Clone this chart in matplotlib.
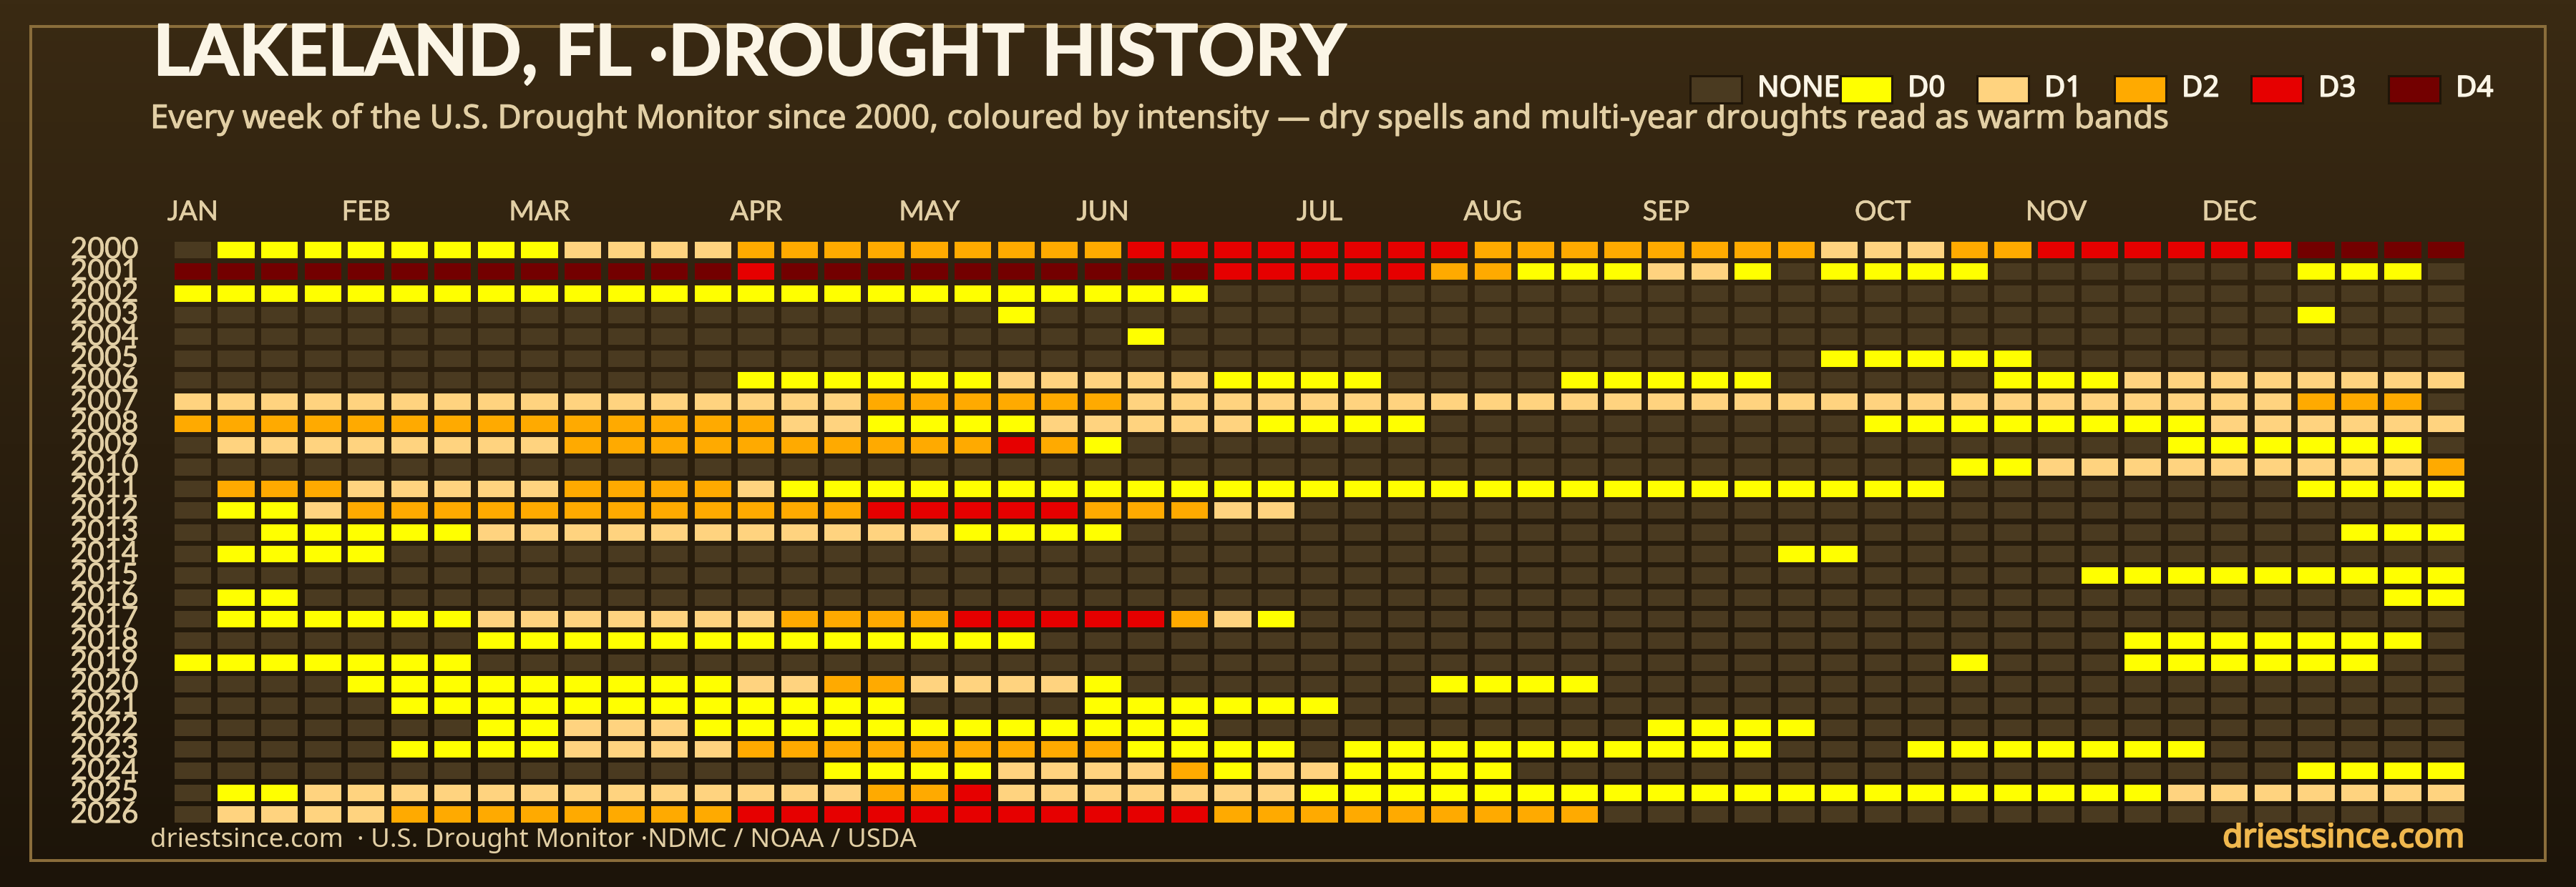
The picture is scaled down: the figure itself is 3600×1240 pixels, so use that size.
import numpy as np
import matplotlib
matplotlib.use("Agg")
import matplotlib.pyplot as plt
import matplotlib.patheffects as pe
from matplotlib.patches import Rectangle
from matplotlib.transforms import ScaledTranslation

# 0 none, 1 D0, 2 D1, 3 D2, 4 D3, 5 D4
w2000 = [0]*1 + [1]*8 + [2]*4 + [3]*9 + [4]*8 + [3]*8 + [2]*3 + [3]*2 + [4]*6 + [5]*4
w2001 = [5]*13 + [4]*1 + [5]*10 + [4]*5 + [3]*2 + [1]*3 + [2]*2 + [1]*1 + [0]*1 + [1]*4 + [0]*7 + [1]*3 + [0]*1
w2002 = [1]*24 + [0]*29
w2003 = [0]*19 + [1]*1 + [0]*29 + [1]*1 + [0]*3
w2004 = [0]*22 + [1]*1 + [0]*30
w2005 = [0]*38 + [1]*5 + [0]*10
w2006 = [0]*13 + [1]*6 + [2]*5 + [1]*4 + [0]*4 + [1]*5 + [0]*5 + [1]*3 + [2]*8
w2007 = [2]*16 + [3]*6 + [2]*27 + [3]*3 + [0]*1
w2008 = [3]*14 + [2]*2 + [1]*4 + [2]*5 + [1]*4 + [0]*10 + [1]*8 + [2]*6
w2009 = [0]*1 + [2]*8 + [3]*10 + [4]*1 + [3]*1 + [1]*1 + [0]*24 + [1]*6 + [0]*1
w2010 = [0]*41 + [1]*2 + [2]*9 + [3]*1
w2011 = [0]*1 + [3]*3 + [2]*5 + [3]*4 + [2]*1 + [1]*27 + [0]*8 + [1]*4
w2012 = [0]*1 + [1]*2 + [2]*1 + [3]*12 + [4]*5 + [3]*3 + [2]*2 + [0]*27
w2013 = [0]*2 + [1]*5 + [2]*11 + [1]*4 + [0]*28 + [1]*3
w2014 = [0]*1 + [1]*4 + [0]*32 + [1]*2 + [0]*14
w2015 = [0]*44 + [1]*9
w2016 = [0]*1 + [1]*2 + [0]*48 + [1]*2
w2017 = [0]*1 + [1]*6 + [2]*7 + [3]*4 + [4]*5 + [3]*1 + [2]*1 + [1]*1 + [0]*27
w2018 = [0]*7 + [1]*13 + [0]*25 + [1]*7 + [0]*1
w2019 = [1]*7 + [0]*34 + [1]*1 + [0]*3 + [1]*6 + [0]*2
w2020 = [0]*4 + [1]*9 + [2]*2 + [3]*2 + [2]*4 + [1]*1 + [0]*7 + [1]*4 + [0]*20
w2021 = [0]*5 + [1]*12 + [0]*4 + [1]*6 + [0]*26
w2022 = [0]*7 + [1]*2 + [2]*3 + [1]*12 + [0]*10 + [1]*4 + [0]*15
w2023 = [0]*5 + [1]*4 + [2]*4 + [3]*9 + [1]*4 + [0]*1 + [1]*10 + [0]*3 + [1]*7 + [0]*6
w2024 = [0]*15 + [1]*4 + [2]*4 + [3]*1 + [1]*1 + [2]*2 + [1]*4 + [0]*18 + [1]*4
w2025 = [0]*1 + [1]*2 + [2]*13 + [3]*2 + [4]*1 + [2]*7 + [1]*20 + [2]*7
w2026 = [0]*1 + [2]*4 + [3]*8 + [4]*11 + [3]*9 + [0]*20

years = list(range(2000, 2027))
weeks = [w2000, w2001, w2002, w2003, w2004, w2005, w2006, w2007, w2008,
         w2009, w2010, w2011, w2012, w2013, w2014, w2015, w2016, w2017,
         w2018, w2019, w2020, w2021, w2022, w2023, w2024, w2025, w2026]

months = ["JAN", "FEB", "MAR", "APR", "MAY", "JUN", "JUL", "AUG", "SEP", "OCT", "NOV", "DEC"]
month_weeks = [0, 4, 8, 13, 17, 21, 26, 30, 34, 39, 43, 47]

levels = ["NONE", "D0", "D1", "D2", "D3", "D4"]
level_colors = ["#4a3a20", "#ffff00", "#ffd37f", "#ffaa00", "#e60000", "#730000"]

W, H = 3600, 1240
cream = "#fbf5e6"
tan = "#e2cfa5"
plt.rcParams["font.family"] = ["Lato", "DejaVu Sans"]
noto = ["Noto Sans", "DejaVu Sans"]


def fatten(color, lw):
    # the installed regular weights are a bit thin next to the original
    return [pe.withStroke(linewidth=lw, foreground=color)]


fig = plt.figure(figsize=(W/100, H/100), dpi=100)

# background gradient and frame, pixel coords
bg = fig.add_axes([0, 0, 1, 1], zorder=0)
bg.set_xlim(0, W)
bg.set_ylim(H, 0)
bg.axis("off")
top = np.array([58, 42, 19])/255
bot = np.array([28, 20, 9])/255
t = np.linspace(0, 1, 256)[:, None, None]
bg.imshow(top*(1-t) + bot*t, extent=[0, W, H, 0], aspect="auto", zorder=0)
bg.add_patch(Rectangle((43, 37), 3514, 1166, fill=False, ec="#8a6d3b", lw=2.9, zorder=1))

# heatmap
x0, pitch_x = 269.5, 60.56
y0, pitch_y = 349.5, 30.35
left = x0 - pitch_x/2
right = x0 + 52.5*pitch_x
upper = y0 - pitch_y/2
lower = y0 + 26.5*pitch_y
ax = fig.add_axes([left/W, 1-lower/H, (right-left)/W, (lower-upper)/H], zorder=2)
ax.patch.set_alpha(0)
for row, vals in enumerate(weeks):
    cols = [level_colors[v] for v in vals]
    ax.bar(range(len(vals)), 0.758, bottom=row-0.379, width=0.845, color=cols, lw=0)
ax.set_xlim(-0.5, 52.5)
ax.set_ylim(26.5, -0.5)
for s in ax.spines.values():
    s.set_visible(False)

ax.xaxis.tick_top()
ax.set_xticks(month_weeks, months)
ax.tick_params(axis="x", length=0, pad=14, labelsize=27.5, labelcolor=tan)
for lab in ax.get_xticklabels():
    lab.set_path_effects(fatten(tan, 0.5))
ax.set_yticks(range(len(years)), years)
ax.tick_params(axis="y", length=0, pad=33, labelsize=29.5, labelcolor=tan)
shift = ScaledTranslation(0, -0.115, fig.dpi_scale_trans)
for lab in ax.get_yticklabels():
    lab.set_verticalalignment("baseline")
    lab.set_transform(lab.get_transform() + shift)
    lab.set_path_effects(fatten(tan, 0.6))

# text
bg.text(214, 105, "LAKELAND, FL ·DROUGHT HISTORY", color=cream, fontsize=71,
        fontweight="bold", va="baseline", zorder=3, path_effects=fatten(cream, 1.5))
bg.text(210, 179, "Every week of the U.S. Drought Monitor since 2000, coloured by intensity — dry spells and multi-year droughts read as warm bands",
        color=tan, fontsize=32.95, family=noto, va="baseline", zorder=3, path_effects=fatten(tan, 0.8))
bg.text(210.5, 1184, "driestsince.com  · U.S. Drought Monitor ·NDMC / NOAA / USDA",
        color=tan, fontsize=26.3, family=noto, va="baseline", zorder=3)
bg.text(3444.5, 1184, "driestsince.com", color="#f0b84e", fontsize=33, family=noto,
        ha="right", va="baseline", zorder=3, path_effects=fatten("#f0b84e", 1.6))

# legend
swatch_x = [2360, 2570, 2761, 2953, 3144, 3336]
for sx, name, c in zip(swatch_x, levels, level_colors):
    bg.add_patch(Rectangle((sx+1.5, 105.5), 72, 38, fc=c, ec="#1f1508", lw=2.2, zorder=3))
    bg.text(sx+96, 134.7, name, color=cream, fontsize=29, family=noto, va="baseline", zorder=3,
            path_effects=fatten(cream, 1.2))

fig.savefig("out.png", dpi=100)
